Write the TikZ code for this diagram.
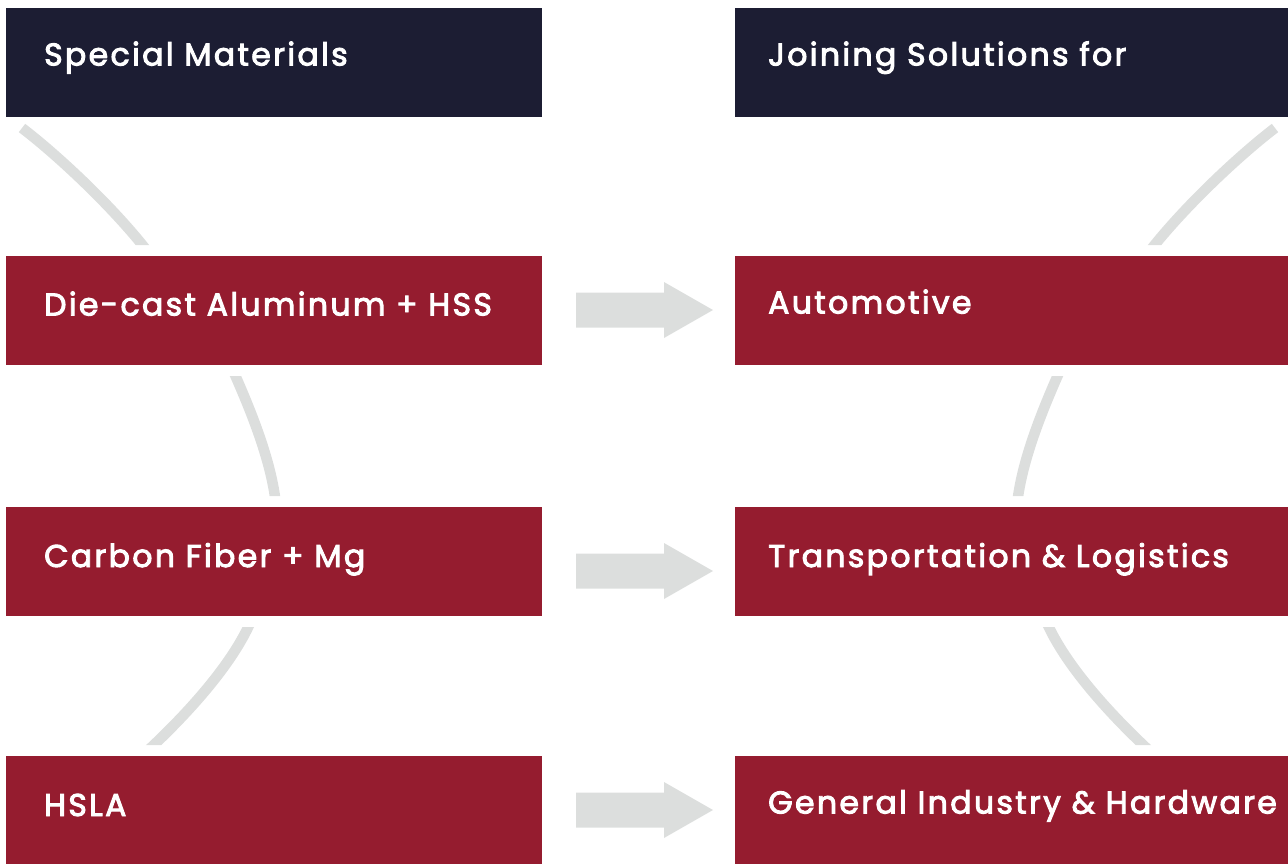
\documentclass[tikz,border=0pt]{standalone}
\usepackage{fontspec}
\newfontfamily\pop{Poppins}[RawFeature={embolden=3},LetterSpace=7.5]
\definecolor{navy}{HTML}{1C1D33}
\definecolor{wine}{HTML}{951C2F}
\definecolor{lgray}{HTML}{DCDEDD}
\begin{document}
\begin{tikzpicture}[x=1pt,y=-1pt,
  hbox/.style={fill=navy,draw=none,minimum width=536pt,minimum height=109pt,anchor=north west,inner sep=0pt},
  rbox/.style={fill=wine,draw=none,minimum width=536pt,minimum height=109pt,anchor=north west,inner sep=0pt},
  wbox/.style={minimum width=556pt},
  lbl/.style={anchor=base west,inner sep=0pt,text=white,font=\pop\fontsize{31.5}{33}\selectfont},
  arc/.style={draw=lgray,line width=10.5pt},
  blockarrow/.style={fill=lgray,draw=none}]
\useasboundingbox (0,0) rectangle (1288,863);
\clip (0,0) rectangle (1288,863);
% arcs
\begin{scope}
\clip (0,118) rectangle (1288,245) (0,376) rectangle (1288,496) (0,627) rectangle (1288,745);
\draw[arc] (22,128) .. controls (60,157) and (118,212) .. (151,256);
\draw[arc] (230.6,365) .. controls (248,404) and (272,460) .. (276.2,507);
\draw[arc] (253,616) .. controls (236,660) and (190,712) .. (142,756);
\draw[arc] (1275,128) .. controls (1237,157) and (1179,212) .. (1146,256);
\draw[arc] (1062.4,365) .. controls (1045,404) and (1021,460) .. (1016.8,507);
\draw[arc] (1044,616) .. controls (1061,660) and (1107,712) .. (1155,756);
\end{scope}
% boxes
\node[hbox] (l1) at (6,8) {};
\node[rbox] (l2) at (6,256) {};
\node[rbox] (l3) at (6,507) {};
\node[rbox] (l4) at (6,756) {};
\node[hbox,wbox] (r1) at (735,8) {};
\node[rbox,wbox] (r2) at (735,256) {};
\node[rbox,wbox] (r3) at (735,507) {};
\node[rbox,wbox] (r4) at (735,756) {};
% labels
\node[lbl] (tl1) at (44,65.5) {Special Materials};
\node[lbl] (tl2) at (44,315.5) {Die-cast Aluminum + HSS};
\node[lbl] (tl3) at (44,567) {Carbon Fiber + Mg};
\node[lbl] (tl4) at (44,816) {HSLA};
\node[lbl] (tr1) at (768,65.5) {Joining Solutions for};
\node[lbl] (tr2) at (768,313.5) {Automotive};
\node[lbl] (tr3) at (768,567) {Transportation \& Logistics};
\node[lbl] (tr4) at (768,813.5) {General Industry \& Hardware};
% block arrows
\foreach \n/\yc in {a2/310,a3/571,a4/810}{
  \coordinate (\n) at (576,\yc);
  \fill[blockarrow] (\n) ++(0,-17.5) -- ++(88,0) -- ++(0,-10.5) -- ++(49,28) -- ++(-49,28) -- ++(0,-10.5) -- ++(-88,0) -- cycle;
}
\end{tikzpicture}
\end{document}
